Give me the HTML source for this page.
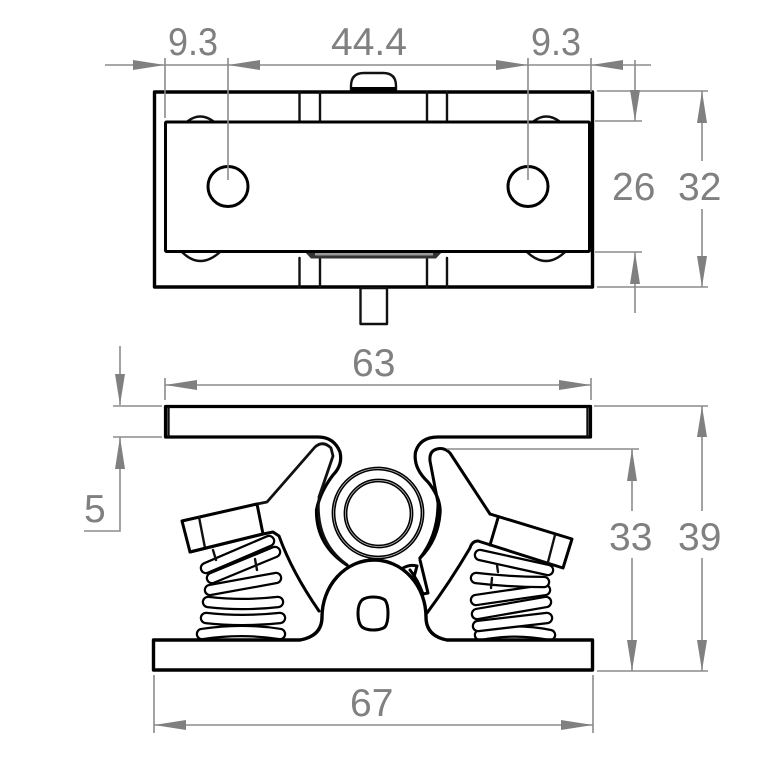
<!DOCTYPE html>
<html><head><meta charset="utf-8"><style>
html,body{margin:0;padding:0;background:#fff}
svg{display:block}
text{font-family:"Liberation Sans",sans-serif;font-size:39px;fill:#808080}
.d{stroke:#8c8c8c;stroke-width:1.6;fill:none}
.a{fill:#808080;stroke:none}
.k{stroke:#000;stroke-width:3;fill:none;stroke-linejoin:round;stroke-linecap:round}
.t{stroke:#111;stroke-width:2.4;fill:none;stroke-linejoin:round;stroke-linecap:round}
.w{fill:#fff}
.c1{stroke:#000;stroke-width:12.5;fill:none;stroke-linecap:round}
.c2{stroke:#fff;stroke-width:8;fill:none;stroke-linecap:round}
</style></head><body>
<svg width="777" height="777" viewBox="0 0 777 777" xmlns="http://www.w3.org/2000/svg">
<rect width="777" height="777" fill="#fff"/>

<!-- TOP VIEW -->
<path class="t" d="M351 90V86Q351 73 364 73H383Q396 73 396 86V90"/>
<rect x="351" y="87" width="45" height="4" fill="#000"/>
<rect x="154.500" y="92" width="438" height="195" class="k" style="stroke-width:3.4"/>
<path class="t" d="M188 121Q200 112 213 121M534 121Q546 112 559 121M182 252Q200 270 220 252M527 252Q546 270 565 252"/>
<path class="t" d="M299.500 92V121M320 92V121M427 92V121M447 92V121M299.500 258V287M320 258V287M427 258V287M447 258V287"/>
<path d="M305 252H442L436 258.500H311Z" fill="#333"/>
<rect x="315" y="253" width="118" height="2.500" fill="#999"/>
<rect x="165.500" y="122" width="424" height="129.500" rx="1" class="w" stroke="#000" stroke-width="3"/>
<circle cx="228" cy="186.500" r="20" class="k" style="fill:#fff"/>
<circle cx="528" cy="186.500" r="20" class="k" style="fill:#fff"/>
<rect x="360.500" y="288" width="26.500" height="36" class="t"/>

<!-- TOP VIEW DIMENSIONS -->
<path class="d" d="M105 65H651M165 58V118M228 58V180M528 58V180M591 58V92"/>
<path class="a" d="M165 65L133 60V70ZM228 65L260 60V70ZM528 65L496 60V70ZM591 65L623 60V70Z"/>
<path class="d" d="M597 91H708M595 121H642M595 252H642M597 287H708M635 60V121M635 252V313M702 91V161M702 209V287"/>
<path class="a" d="M635 121L630 90H640ZM635 252L630 284H640ZM702 91L697 123H707ZM702 287L697 256H707Z"/>
<text x="168" y="55" textLength="50" lengthAdjust="spacingAndGlyphs">9.3</text>
<text x="331" y="55">44.4</text>
<text x="531" y="55" textLength="50" lengthAdjust="spacingAndGlyphs">9.3</text>
<text x="612" y="200">26</text>
<text x="678" y="200">32</text>

<!-- SPRINGS LEFT -->
<g>
<path class="c1" d="M202 634Q242 628 280 634"/><path class="c2" d="M202 634Q242 628 280 634"/>
<path class="c1" d="M206 618Q242 622 280 618"/><path class="c2" d="M206 618Q242 622 280 618"/>
<path class="c1" d="M208 602Q242 606 278 602"/><path class="c2" d="M208 602Q242 606 278 602"/>
<path class="c1" d="M210 590L276 578"/><path class="c2" d="M210 590L276 578"/>
<path class="c1" d="M212 578L275 552"/><path class="c2" d="M212 578L275 552"/>
<path class="c1" d="M206 568L269 541"/><path class="c2" d="M206 568L269 541"/>
<path class="t" d="M213 550L216 560M255 559L257 570"/>
</g>
<!-- SPRINGS RIGHT -->
<g>
<path class="c1" d="M480 635Q515 628 550 635"/><path class="c2" d="M480 635Q515 628 550 635"/>
<path class="c1" d="M478 626L547 618"/><path class="c2" d="M478 626L547 618"/>
<path class="c1" d="M477 614L546 602"/><path class="c2" d="M477 614L546 602"/>
<path class="c1" d="M476 600L545 590"/><path class="c2" d="M476 600L545 590"/>
<path class="c1" d="M476 578Q510 582 544 582"/><path class="c2" d="M476 578Q510 582 544 582"/>
<path class="c1" d="M480 555L548 570"/><path class="c2" d="M480 555L548 570"/>
<path class="t" d="M497 565L498 572M492 578L491 588"/>
</g>

<!-- TOP PLATE -->
<path class="k" style="stroke-width:3.2" d="M590.500 406.500H165.500V437H318Q334 437 340 452Q343 465 333 475Q320 492 316.500 510Q316 545 347 565"/>
<path class="k" style="stroke-width:3.2" d="M590.500 406.500V437H438Q420 437 415.500 452Q413 468 428 482Q441 498 440 513Q438 540 420 558"/>
<path class="t" d="M168.500 408V436M587.500 408V436"/>

<!-- LEFT TRIGGER -->
<path class="t" style="fill:#fff;stroke-width:2.8" d="M182 521L257 504L267 502L315 447Q323 440 331 448L333 456L319 497"/>
<path class="t" d="M319 497Q315 540 345 563"/>
<path class="k" style="fill:#fff" d="M182 521L190 552L263 534L257 504L182 521Z"/>
<path class="t" d="M199 517L205 548"/>
<path class="k" d="M190 552L263 534L273 532L279 536Q292 572 319 611"/>

<!-- RIGHT TRIGGER -->
<path class="k" d="M490 514L450 453Q444 447 437 449Q429 451 430 461L438 503Q438 535 420 558"/>
<path d="M490 514L572 539L563 568L490 545Z" fill="#fff"/>
<path class="k" d="M490 514L572 539L563 568L478 541"/>
<path class="k" d="M498 518L490 545"/>
<path class="k" d="M478 541Q472 541 470 548Q450 582 427 613"/>
<path class="t" d="M555 535L548 562"/>

<!-- CENTRE RINGS -->
<circle cx="378" cy="513" r="44.500" fill="#fff" stroke="#000" stroke-width="3.800"/>
<circle cx="378" cy="513" r="44.500" fill="none" stroke="#bbb" stroke-width="0.800"/>
<circle cx="378.500" cy="513.500" r="33" fill="#fff" stroke="#000" stroke-width="3.800"/>
<circle cx="378.500" cy="513.500" r="33" fill="none" stroke="#bbb" stroke-width="0.800"/>

<!-- PAWL -->
<path class="k" d="M403 568Q410 564 417 566L414 577M420 560L428 593L423 594Q418 580 410 570"/>

<!-- BASE -->
<path d="M300 640Q322 636 322 617A52 57 0 0 1 426 617Q426 636 447 640V642H300Z" fill="#fff"/>
<path class="k" style="stroke-width:3.4" d="M153.500 640H300Q322 636 322 617A52 57 0 0 1 426 617Q426 636 447 640H592.500V670H153.500Z"/>
<path class="k" d="M362 600Q366 597 373 597Q381 597 385 600Q388 604 388 613Q388 623 385 627Q381 630 373 630Q366 630 362 627Q358 623 358 613Q358 604 362 600Z"/>

<!-- SIDE VIEW DIMENSIONS -->
<path class="d" d="M120 346V405M113 406H162M113 437H162M120 437V531H84"/>
<path class="a" d="M120 405L115 374H125ZM120 437L115 469H125Z"/>
<text x="84" y="522">5</text>
<path class="d" d="M165 378V400M591 378V400M165 385H591"/>
<path class="a" d="M165 385L197 380V390ZM591 385L559 380V390Z"/>
<text x="352" y="376">63</text>
<path class="d" d="M594 406H708M447 449H639M597 671H708M632 449V511M632 558V671M702 406V511M702 558V671"/>
<path class="a" d="M632 449L627 481H637ZM632 671L627 640H637ZM702 406L697 437H707ZM702 671L697 640H707Z"/>
<text x="609" y="550">33</text>
<text x="678" y="550">39</text>
<path class="d" d="M154 675V733M593 675V733M154 725H593"/>
<path class="a" d="M154 725L186 720V730ZM593 725L561 720V730Z"/>
<text x="350" y="716">67</text>
</svg>
</body></html>
